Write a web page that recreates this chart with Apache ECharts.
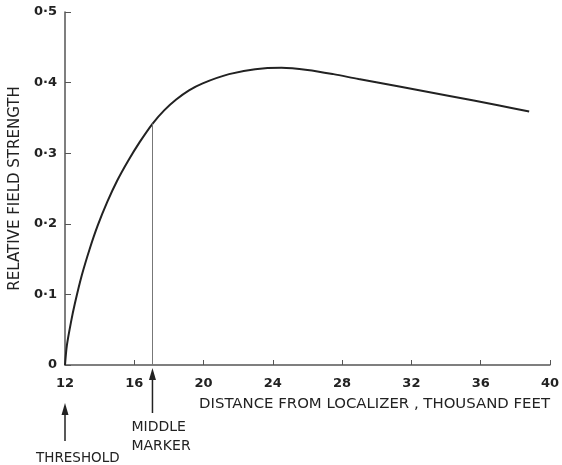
<!DOCTYPE html>
<html>
<head>
<meta charset="utf-8">
<script src="https://cdn.jsdelivr.net/npm/echarts@6/dist/echarts.min.js"></script>
<style>
  html, body { margin: 0; padding: 0; background: #fff; }
  #chart { width: 562px; height: 465px; }
</style>
</head>
<body>
<div id="chart"></div>
<script>
// Distance from localizer (thousand feet) and relative field strength along the approach
const distance = [12, 12.11, 12.34, 12.57, 12.97, 13.42, 13.88, 14.44, 15.01, 15.64, 16.32, 17.06, 17.74, 18.42, 19.16, 19.95, 21.47, 22.98, 24.5, 26.0, 27.5, 28.95, 31.3, 34.2, 37.0, 38.8];
const strength = [0, 0.028, 0.06, 0.087, 0.127, 0.164, 0.197, 0.231, 0.261, 0.289, 0.316, 0.342, 0.361, 0.376, 0.389, 0.399, 0.412, 0.419, 0.421, 0.418, 0.412, 0.405, 0.3945, 0.381, 0.368, 0.359];

// Reference points marked below the distance axis
const thresholdDistance = 12;
const middleMarkerDistance = 17.05;
const middleMarkerStrength = 0.342;

const xTicks = [12, 16, 20, 24, 28, 32, 36, 40];
const yTicks = ['0', '0·1', '0·2', '0·3', '0·4', '0·5'];

const FONT = 'DejaVu Sans';
const INK = '#222';
const AXIS = '#555';

const chart = echarts.init(document.getElementById('chart'), null, { renderer: 'canvas' });

const points = distance.map((d, i) => [d, strength[i]]);

chart.setOption({
  animation: false,
  backgroundColor: '#fff',
  grid: { left: 60, right: 9, top: 12, bottom: 100 },
  xAxis: {
    type: 'value',
    min: xTicks[0],
    max: xTicks[xTicks.length - 1],
    interval: 4,
    axisLine: { lineStyle: { color: AXIS, width: 1.5 } },
    axisTick: { inside: true, length: 5, lineStyle: { color: AXIS } },
    splitLine: { show: false },
    axisLabel: { margin: 12, color: INK, fontFamily: FONT, fontSize: 13, fontWeight: 'bold' }
  },
  yAxis: {
    type: 'value',
    min: 0,
    max: 0.5,
    interval: 0.1,
    name: 'RELATIVE FIELD STRENGTH',
    nameLocation: 'middle',
    nameGap: 42,
    nameTextStyle: { color: INK, fontFamily: FONT, fontSize: 15 },
    axisLine: { show: true, lineStyle: { color: AXIS, width: 1.5 } },
    axisTick: { show: true, inside: true, length: 6, lineStyle: { color: AXIS } },
    splitLine: { show: false },
    axisLabel: {
      margin: 8, color: INK, fontFamily: FONT, fontSize: 13, fontWeight: 'bold',
      formatter: (v) => yTicks[Math.round(v * 10)]
    }
  },
  series: [
    {
      type: 'line',
      data: points,
      smooth: 0.3,
      showSymbol: false,
      lineStyle: { color: INK, width: 2 },
      markLine: {
        silent: true,
        symbol: ['none', 'none'],
        label: { show: false },
        lineStyle: { color: '#777', width: 1, type: 'solid' },
        data: [[
          { coord: [middleMarkerDistance, 0] },
          { coord: [middleMarkerDistance, middleMarkerStrength] }
        ]]
      }
    }
  ]
});

// Annotations below the distance axis, placed from the axis scale
function arrow(x, yHead, yTail) {
  return [
    { type: 'line', shape: { x1: x, y1: yHead + 8, x2: x, y2: yTail }, style: { stroke: INK, lineWidth: 1.5 } },
    { type: 'polygon', shape: { points: [[x, yHead], [x - 3.5, yHead + 12], [x + 3.5, yHead + 12]] }, style: { fill: INK } }
  ];
}
const thrX = chart.convertToPixel({ gridIndex: 0 }, [thresholdDistance, 0])[0];
const mmX = chart.convertToPixel({ gridIndex: 0 }, [middleMarkerDistance, 0])[0];
const textStyle = { fill: INK, font: '14px "DejaVu Sans"', textVerticalAlign: 'middle' };

chart.setOption({
  graphic: [
    ...arrow(thrX, 403, 441),
    ...arrow(mmX, 368, 413),
    { type: 'text', left: thrX - 29, top: 451, style: Object.assign({}, textStyle, { text: 'THRESHOLD', font: '13.5px "DejaVu Sans"' }) },
    { type: 'text', left: mmX - 21, top: 418, style: Object.assign({}, textStyle, { text: 'MIDDLE\nMARKER', lineHeight: 19 }) },
    { type: 'text', right: 12, top: 397, style: Object.assign({}, textStyle, { text: 'DISTANCE FROM LOCALIZER , THOUSAND FEET', font: '14.9px "DejaVu Sans"' }) }
  ]
});
</script>
</body>
</html>
